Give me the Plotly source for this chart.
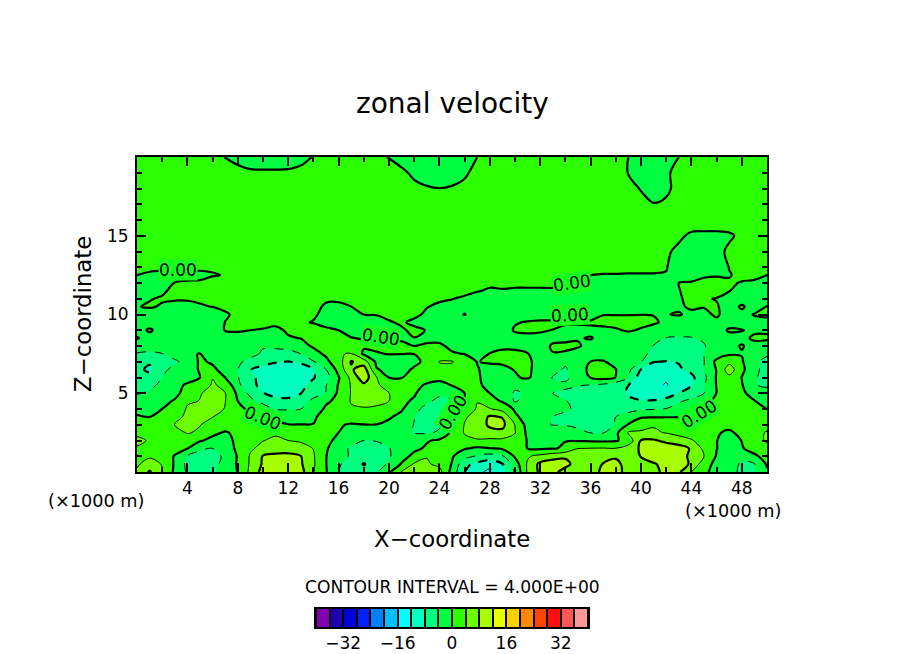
import plotly.graph_objects as go

W, H = 904, 654

# band colours, one per 4 m/s interval from -40 to 40
band_colors = [
    "#8000b0", "#2000b0", "#0000d8", "#0020ff", "#0080ff",
    "#00c0ff", "#00ffff", "#00ffc0", "#00ff80", "#00ff40",
    "#2cff00", "#6cff00", "#a8ff00", "#e8ff00", "#ffd000",
    "#ff8800", "#ff4400", "#ff1010", "#ff5555", "#ff9999",
]
band_centers = [-38, -34, -30, -26, -22, -18, -14, -10, -6, -2, 2, 6, 10, 14, 18, 22, 26, 30, 34, 38]

x_km = list(range(51))
z_km = [20, 19, 18, 17, 16, 15, 14, 13, 12.5, 12, 11.5, 11, 10.5, 10, 9.5, 9, 8.5,
        8, 7.5, 7, 6.5, 6, 5.5, 5, 4.5, 4, 3.5, 3, 2.5, 2, 1.5, 1, 0.5, 0]

# zonal velocity, top row first, x = 0..50
u = [
    [1, 1, 1, 1, 1, 1, 1, -.1, -.5, -1,
     -1, -1, -1, -.6, .1, 1, 1, 1, 1, .5,
     -.1, -1, -1, -1, -1, -1, -.5, 0, 1, 1,
     1, 1, 1, 1, 1, 1, 1, 1, 1, 0,
     -1, -1, -.8, 0, 1, 1, 1, 1, 1, 1,
     1],
    [1, 1, 1, 1, 1, 1, 1, 1, .5, .3,
     .25, .25, .3, .5, 1, 1, 1, 1, 1, 1,
     1, .5, -.5, -1, -1, -1, -.5, 1, 1, 1,
     1, 1, 1, 1, 1, 1, 1, 1, 1, -.1,
     -1, -1, -.5, 1, 1, 1, 1, 1, 1, 1,
     1],
    [1.5, 1.5, 1.5, 1.5, 1.5, 1.5, 1.5, 1.5, 1.5, 1.5,
     1.5, 1.5, 1.5, 1.5, 1.5, 1.5, 1.5, 1.5, 1.5, 1.5,
     1.5, 1, .6, .2, .02, .2, .8, 1.5, 1.5, 1.5,
     1.5, 1.5, 1.5, 1.5, 1.5, 1.5, 1.5, 1.5, 1.5, 1,
     -.2, -1, -.6, 1, 1.5, 1.5, 1.5, 1.5, 1.5, 1.5,
     1.5],
    [1.5, 1.5, 1.5, 1.5, 1.5, 1.5, 1.5, 1.5, 1.5, 1.5,
     1.5, 1.5, 1.5, 1.5, 1.5, 1.5, 1.5, 1.5, 1.5, 1.5,
     1.5, 1.5, 1.5, 1.5, 1.5, 1.5, 1.5, 1.5, 1.5, 1.5,
     1.5, 1.5, 1.5, 1.5, 1.5, 1.5, 1.5, 1.5, 1.5, 1.5,
     1, .1, .5, 1, 1.5, 1.5, 1.5, 1.5, 1.5, 1.5,
     1.5],
    [1.5, 1.5, 1.5, 1.5, 1.5, 1.5, 1.5, 1.5, 1.5, 1.5,
     1.5, 1.5, 1.5, 1.5, 1.5, 1.5, 1.5, 1.5, 1.5, 1.5,
     1.5, 1.5, 1.5, 1.5, 1.5, 1.5, 1.5, 1.5, 1.5, 1.5,
     1.5, 1.5, 1.5, 1.5, 1.5, 1.5, 1.5, 1.5, 1.5, 1.5,
     1.5, 1.5, 1.5, 1.5, 1.5, 1.5, 1.5, 1.5, 1.5, 1.5,
     1.5],
    [1.5, 1.5, 1.5, 1.5, 1.5, 1.5, 1.5, 1.5, 1.5, 1.5,
     1.5, 1.5, 1.5, 1.5, 1.5, 1.5, 1.5, 1.5, 1.5, 1.5,
     1.5, 1.5, 1.5, 1.5, 1.5, 1.5, 1.5, 1.5, 1.5, 1.5,
     1.5, 1.5, 1.5, 1.5, 1.5, 1.5, 1.5, 1.5, 1.5, 1.5,
     1.5, 1.5, 1.5, .5, -.5, -.6, -.6, -.4, .6, 1.5,
     1.5],
    [1.5, 1.5, 1.5, 1.5, 1.5, 1.5, 1.5, 1.5, 1.5, 1.5,
     1.5, 1.5, 1.5, 1.5, 1.5, 1.5, 1.5, 1.5, 1.5, 1.5,
     1.5, 1.5, 1.5, 1.5, 1.5, 1.5, 1.5, 1.5, 1.5, 1.5,
     1.5, 1.5, 1.5, 1.5, 1.5, 1.5, 1.5, 1.5, 1.5, 1.5,
     1.5, 1.5, .4, -.6, -1, -1, -.8, .5, 1.5, 1.5,
     1.5],
    [.4, .4, .4, .4, .4, .4, .3, .8, 1.5, 1.5,
     1.5, 1.5, 1.5, 1.5, 1.5, 1.5, 1.5, 1.5, 1.5, 1.5,
     1.5, 1.5, 1.5, 1.5, 1.5, 1.5, 1.5, 1.5, 1.5, 1.5,
     1.5, 1.5, 1.5, 1.5, 1.5, 1.5, .5, .5, .5, .5,
     .5, .5, .1, -1, -1, -1, -1, .05, .8, .8,
     .5],
    [0, -.3, -.5, -.6, -.6, -.5, -.15, .1, 1.2, 1.2,
     1.2, 1.2, 1.2, 1.2, 1.2, 1.2, 1.2, 1.2, 1.2, 1.2,
     1.2, 1.2, 1.2, 1.2, 1.2, 1.2, 1.2, 1.2, 1.2, 1.2,
     1.2, 1.2, 1.2, 1.2, 1.2, .2, 0, -.1, -.1, -.15,
     -.15, -.15, -.1, -1, -.5, -.2, -.1, -.1, .4, .3,
     0],
    [-1, -1, -.5, .05, .25, .3, .8, 1.2, 1.2, 1.2,
     1.2, 1.2, 1.2, 1.2, 1.2, 1.2, 1.2, 1.2, 1.2, 1.2,
     1.2, 1.2, 1.2, 1.2, 1.2, 1, .8, .5, .3, .6,
     .6, .6, .6, .6, .05, -.3, -1, -1, -1, -1,
     -1, -1, -1, 0, .1, .4, .4, .2, -.1, -.2,
     -.5],
    [-1, -.5, -.3, .5, 1.5, 1.5, 1.5, 1.5, 1.5, 1.5,
     1.5, 1.5, 1.5, 1.5, 1.5, 1.5, 1.5, 1.5, 1.5, 1.5,
     1.5, 1.5, 1.5, 1.5, 1.5, 1.2, .5, .1, -.2, -.2,
     -.4, -.4, -.4, -.4, -1, -1.5, -1.5, -1.5, -1.5, -1.5,
     -1.5, -1.5, -1.5, -.1, .8, .8, .8, .1, -1, -1,
     -1],
    [-.6, -.1, .2, .1, .1, .3, .7, 1.2, 1.2, 1.2,
     1.2, 1.2, 1.2, 1.2, 1.2, .5, .4, .8, 1.2, 1.2,
     1.2, 1.2, 1, .8, .3, .05, -.3, -.8, -1.5, -1.5,
     -1.5, -1.5, -1.5, -1.5, -1.5, -1.5, -1.5, -1.5, -1.5, -1.5,
     -1.5, -1.5, -1.5, -.2, .5, .2, -.1, -1, -1, -1,
     -1],
    [-.1, .2, -.2, -.3, -.3, -.2, .05, .6, 1.2, 1.2,
     1.2, 1.2, 1.2, 1.2, 1, -.5, -.5, 0, .6, .8,
     1, 1, 1, .1, -.4, -.5, -.8, -1.5, -1.5, -1.5,
     -1.5, -1.5, -1.5, -1.5, -1.5, -1.5, -1.5, -1.5, -1.5, -1.5,
     -1.5, -1.5, -1.5, -.2, .2, .1, .2, -1, .3, -1,
     .1],
    [-1, -1, -1.5, -1.5, -1.5, -1.5, -1.5, -.36, .64, 1.2,
     1.2, 1.2, 1.2, 1.2, .5, -1, -1, -.8, 0, .1,
     .5, .8, .5, -.4, -1, -1, .1, -1.5, -1.5, -1.5,
     -1.5, -1.5, -1.5, -1.5, -1.5, -1.5, -1.5, -.05, -.05, -.05,
     -.03, -.05, -.05, .1, -.3, -.5, .3, -1, -.6, .1,
     .3],
    [-1.5, -1.5, -1.5, -1.5, -1.5, -1.5, -1.5, .05, .9, 1.2,
     .8, .5, 1, .5, -.2, -.5, -.8, -1, -1, -1,
     -.2, .3, -.5, -1, -1.5, -1.5, -1.5, -1.5, -1.5, -1.5,
     -.2, .2, .5, .5, .5, .5, .5, .5, .5, .5,
     .5, .2, -.3, -.8, -1, -1, -.5, -1, -1, -.5,
     -.5],
    [-1.5, .5, -1.5, -1.5, -1.5, -1.5, -.5, .05, .1, 0,
     -.2, -.5, .3, 1.5, 1.5, .3, 0, -.5, -.6, -.6,
     -.6, -.3, .5, -.1, -1.5, -1.5, -1.5, -1.5, -1.5, -1.5,
     .3, .4, .2, -.05, -1, -1.2, -.8, -.5, -.2, .2,
     -.2, -.6, -2.5, -2.5, -2.5, -2.5, -1.2, .3, .1, -.5,
     -.5],
    [.3, -1.5, -1.6, -1.5, -1.4, -1.2, -1, -.8, -.4, -.5,
     -.6, -1.2, -.2, .05, 1, 1.2, 1, .05, -.1, -.15,
     -.2, -.2, -.05, -.5, -.5, -1, -1.2, -1.5, -1.5, -1.5,
     -1, -.6, -.5, -.6, -.6, -.2, .2, -1, -1.2, -1,
     -1.2, -3.2, -4.1, -4.3, -4.2, -3.5, -1.3, -1, -.8, .5,
     .5],
    [-2, -2.5, -2.4, -2, -1.6, -1.2, -1.2, -1.3, -1.5, -1.8,
     -3.7, -3.2, -2.5, -.8, .3, 1.5, 2, 1.5, .4, .5,
     .4, .3, 0, .3, .3, -.4, -.7, -1.2, -.8, -.5,
     -.5, -.8, -1, .3, .5, .3, -1, -1.2, -1.5, -2,
     -2.5, -4.1, -4.8, -5, -4.5, -4.3, -2, -.8, .2, -1,
     -1.5],
    [-4.3, -4.6, -4.1, -2.8, -.2, .05, -1.3, -1.8, -2.3, -3,
     -4.5, -5.5, -5.5, -4, -1, .5, 3.9, 4.1, -.6, -.2,
     .1, .05, .05, .8, .9, .2, -.05, -1.2, .1, .6,
     .5, .1, -1.5, -.1, -.3, -1.2, -1.5, -1.8, -2.2, -2.8,
     -3.5, -4.5, -5.5, -5.8, -5, -4, -2, -.5, -.2, -2.5,
     -3.5],
    [-5, -7.5, -6.5, -4.5, -3, .6, -.5, -1.5, -3.4, -5,
     -7, -7.8, -8.1, -7.5, -4.3, -.8, 2, 8.3, 6, -.8,
     -1.5, -1.5, -.8, .8, 4.2, 4.3, 1.5, -.1, .3, .3,
     .5, .5, -1, -1.6, -3.4, -2.2, .05, .3, -1.3, -2.5,
     -3.8, -7.9, -8.2, -7.8, -6.5, -4.1, 1, 3, .4, -3.4,
     -5],
    [-7, -8.8, -4.8, -3, -1.5, .3, .8, -1.5, -3.9, -7.9,
     -9, -9.5, -10, -9.8, -8, -4.1, 1.3, 7.5, 10, .3,
     -1, -1.2, .5, 1.5, 2.8, 2.5, 2, .2, -1, -.5,
     .1, .6, -1.3, -3, -4.4, -2, 1, 1.5, .1, -3,
     -8.1, -10, -10, -8.5, -7, -4, .2, 6, 1, -3.3,
     -5],
    [-6, -6.5, -4, -2, -1, 0, 3.9, -.1, -3.8, -7,
     -9.5, -11, -11.5, -11, -8.3, -5.5, -.3, 5, 10.5, 4.2,
     0, -.1, 1.3, 1.5, 1, 1.8, 2, .4, -1.2, -2,
     -.3, .4, -1.6, -4.2, -4.5, -3, .1, 1.2, -.05, -4,
     -10.5, -11.5, -11.5, -10.5, -9, -5, .3, 3, -.1, -3.8,
     -4.6],
    [-5, -4.5, -3.5, -.8, .4, 2, 4.4, 3.2, -3, -7,
     -9, -10.5, -10.5, -9, -6.8, -4.1, .3, 4.3, 7, 4.8,
     2, 1.5, 1, -.5, -1.2, .1, 1.5, 1.3, -2, -3,
     -3.2, -2.8, -2.8, -3.3, -3.5, -3.8, -4.3, -5, -6.5, -8,
     -10, -11, -12.3, -10, -8.2, -4.2, .2, 1.6, .3, -3.8,
     -4.5],
    [-4.2, -3.7, -2.5, -.8, 1.2, 3.8, 5, 4.1, -.8, -5,
     -7.8, -9.5, -9.5, -8.1, -5.5, -3.9, .8, 4.2, 6.5, 6,
     4.05, 2, .4, -2, -3.2, -2.8, 0, 1.5, 0, -1.5,
     -4.5, -3.5, -3.2, -4, -4.5, -5, -5.5, -6, -7, -8.3,
     -9.5, -10, -9.5, -7.9, -6, -4, .1, 1.5, .5, -1,
     -2.5],
    [-2.5, -1.8, -.9, .3, 3.5, 4.1, 5, 4.1, 0, -3,
     -5, -6.5, -7, -6, -3, -.5, .8, 4.3, 5, 5,
     4, .8, -.5, -3.3, -5, -4.3, .4, 3.9, 1.2, -.3,
     -4.4, -2.5, -2.5, -3, -3.9, -4.6, -5.2, -5.5, -6, -7.5,
     -7.8, -7.7, -7, -4.5, -3, -.5, .5, 1.2, .9, .1,
     -.9],
    [-.6, -.8, 0, .8, 4.5, 6, 5.5, 3.8, .7, -.5,
     -2.2, -4.2, -4.3, -4, -1.8, .5, 2.5, 3.5, 3.7, 3.3,
     1.5, .4, -2.6, -5.5, -6.5, -4.5, 2, 4.3, 4.3, 2.5,
     -.5, -1.5, -2.5, -3, -3.7, -4.4, -4.8, -5, -4.5, -4.8,
     -4.6, -4.2, -3.8, -2.5, -1, 1, 1.5, 2, 2, 1,
     -.05],
    [.2, 0, .5, 2.5, 5, 6, 4.1, 2, 1.2, .9,
     0, -.5, -1.5, -1.8, -.3, .8, 2, 2, 2.4, 2.2,
     .4, -1, -3.9, -6, -6, -1.5, 3.5, 5.5, 8.5, 7.8,
     .7, -1.7, -3, -4, -4.5, -5, -5, -5, -4, -3,
     -.3, -.25, -.2, -.1, .4, 1.3, 2, 2, 2, 2,
     1.8],
    [1.8, 1.2, 1.5, 4.2, 4.8, 4.2, 1.8, 1.5, 1.8, 2,
     1.5, .5, .1, .1, .05, .8, .3, -.3, -.1, -.1,
     -.8, -2.5, -4.1, -5, -4.5, 0, 4.2, 5.5, 8.8, 9,
     3.9, -1.5, -3.5, -4.1, -4.1, -4.5, -4.6, -5, -3.8, .3,
     2, 3.7, 3.9, 2.5, 1.5, 1.2, 1, 1, 1.5, 2.2,
     2],
    [3.5, 2.5, 2, 2.2, 4.4, 3.2, .7, -.3, .7, 1.8,
     2.8, 3.5, 3, 2.5, 2.2, 1.2, 0, -1, -1.5, -1.8,
     -2.5, -3, -4.3, -4.5, -3.5, .8, 4.3, 6, 6.5, 7,
     4.1, -.9, -1.8, -2.3, -3, -3.4, -4.1, -4.2, -1, 4.5,
     4.7, 4.5, 3.8, 3, 2.5, 1.5, .3, -.5, .8, 2,
     4.5],
    [4.5, 3.8, 2.5, 2, 1.2, .3, -.8, -1.5, 1, 2.5,
     3.9, 4.6, 4, 3.5, 3, 1, -1, -2.5, -4, -3.9,
     -3.5, -3.5, -1, -.3, .6, 2.5, 3, 3.5, 3.2, 3,
     3.4, -.3, -1, -.8, -.1, -.3, -.5, -.6, -.4, 1.5,
     8.2, 8.5, 7, 5.5, 4.3, 2.5, .1, -1.8, .1, 2.5,
     4.5],
    [3.8, 3.3, 3, 1.5, .1, -3, -4.1, -2.5, 1, 3.5,
     5, 6, 6, 5.5, 3.9, .5, -2.5, -4.5, -5, -4.7,
     -4.1, -3, -.8, .5, 1.8, .8, .3, -.6, -.1, .6,
     1.5, -.05, -.5, -.3, .5, 3.9, 4.1, 4.2, 4.1, 6,
     8.5, 10.5, 10.5, 10, 7.5, 3, .1, -2, -.3, 1.5,
     2.5],
    [3, 3.5, 2.5, -.3, -4.2, -6, -6, -3, .3, 4.4,
     8.3, 9, 9.2, 8.1, 4.4, .1, -2.5, -4.5, -6, -5.5,
     -4.4, -1.5, 1, 3.8, 2.5, .4, -2.5, -4.5, -5.5, -4.5,
     .5, 3.6, 5, 6.5, 7.5, 7.9, 5.5, 6.5, 7.5, 5.5,
     8.2, 10.5, 10.5, 9, 7.5, 4, -.3, -2.5, -3, -.7,
     1.5],
    [3.5, 5.5, 3.8, -.5, -5, -6.5, -5.5, -2.5, .4, 4.5,
     8.5, 10, 10, 8.5, 4.5, .1, -3.6, -5.5, -8.3, -5.5,
     -3.5, .3, 4.5, 4.5, 3, -.2, -7, -9, -10.5, -8.2,
     -2, 4.5, 9, 10, 9, 6.5, 6, 8.2, 9, 6.5,
     6.5, 7.5, 9.5, 9.5, 7.5, 1.5, -1, -2.5, -4.5, -4.2,
     .5],
    [4.5, 8.5, 4.2, -.8, -4.5, -6, -5, -1.5, .05, 5,
     9.5, 10, 11, 9.5, 4.2, .3, -4, -6, -6.5, -4.5,
     -.5, 4.4, 5.5, 6.5, 5.5, -1.5, -8, -11, -13, -9.5,
     -3.5, 4.5, 8.8, 9, 6.5, 6, 7, 8.5, 9, 7,
     6.5, 7.5, 8.5, 8.5, 4, 1.2, -2, -3.5, -4.3, -4.2,
     -.5],
]
assert len(u) == len(z_km) and all(len(r) == 51 for r in u)

# contour lines: level, width, dash
line_levels = [0, 4, 8, -4, -8, -12]
line_widths = [2.2, 1, 2.2, 1, 2.2, 1]
line_dashes = ["solid", "solid", "solid", "dash", "dash", "dash"]

# in-line "0.00" labels
label_x = [3.25, 34.5, 34.35, 19.4, 10, 25.1, 44.6]
label_y = [12.85, 12.0, 9.95, 8.6, 3.45, 3.8, 3.7]
label_angle = [0, -8, -3, 9, 22, -58, -32]

colorscale = []
for i, c in enumerate(band_colors):
    colorscale.append([i / 20, c])
    colorscale.append([(i + 1) / 20, c])

fig = go.Figure()

fig.add_trace(go.Contour(
    x=x_km, y=z_km, z=u,
    zmin=-40, zmax=40,
    colorscale=colorscale,
    autocontour=False,
    contours=dict(start=-40, end=40, size=4, coloring="fill", showlines=False),
    line_width=0,
    showscale=False,
    hoverinfo="skip",
))

for level, width, dash in zip(line_levels, line_widths, line_dashes):
    fig.add_trace(go.Contour(
        x=x_km, y=z_km, z=u,
        autocontour=False,
        contours=dict(start=level, end=level, size=4, coloring="none"),
        line=dict(color="black", width=width, dash=dash),
        showscale=False,
        hoverinfo="skip",
    ))

# colour key under the plot
fig.add_trace(go.Heatmap(
    x=band_centers, y=[0], z=[band_centers],
    zmin=-40, zmax=40,
    colorscale=colorscale,
    showscale=False,
    xgap=2,
    hoverinfo="skip",
    xaxis="x2", yaxis="y2",
))

axis_font = dict(family="DejaVu Sans", size=17, color="black")

fig.update_layout(
    width=W, height=H,
    margin=dict(l=0, r=0, t=0, b=0, autoexpand=False),
    paper_bgcolor="white",
    plot_bgcolor="black",
    showlegend=False,
    xaxis=dict(
        domain=[137 / W, 767 / W], range=[0, 50],
        tickmode="array", tickvals=list(range(4, 50, 4)),
        ticks="inside", ticklen=9, tickwidth=1.5, tickcolor="black",
        minor=dict(tickmode="array", tickvals=list(range(2, 50, 4)),
                   ticks="inside", ticklen=5, tickwidth=1.5, tickcolor="black"),
        showline=True, linecolor="black", linewidth=2, mirror="ticks",
        showgrid=False, zeroline=False, tickfont=axis_font,
    ),
    yaxis=dict(
        domain=[(H - 472) / H, (H - 157) / H], range=[0, 20],
        tickmode="array", tickvals=[5, 10, 15],
        ticks="inside", ticklen=9, tickwidth=1.5, tickcolor="black",
        minor=dict(tickmode="array",
                   tickvals=[1, 2, 3, 4, 6, 7, 8, 9, 11, 12, 13, 14, 16, 17, 18, 19],
                   ticks="inside", ticklen=5, tickwidth=1.5, tickcolor="black"),
        showline=True, linecolor="black", linewidth=2, mirror="ticks",
        showgrid=False, zeroline=False, tickfont=axis_font, ticklabelstandoff=3,
    ),
    xaxis2=dict(
        domain=[316 / W, 588 / W], range=[-40, 40], anchor="y2",
        tickmode="array", tickvals=[-32, -16, 0, 16, 32], ticks="",
        showline=True, linecolor="black", linewidth=2, mirror=True,
        showgrid=False, zeroline=False, tickfont=axis_font,
    ),
    yaxis2=dict(
        domain=[(H - 627) / H, (H - 609) / H], range=[-0.5, 0.5], anchor="x2",
        showticklabels=False, ticks="",
        showline=True, linecolor="black", linewidth=2, mirror=True,
        showgrid=False, zeroline=False,
    ),
)


def add_text(text, px, py, size, angle=0):
    fig.add_annotation(
        text=text, x=px / W, y=1 - py / H, xref="paper", yref="paper",
        xanchor="center", yanchor="middle", showarrow=False, textangle=angle,
        font=dict(family="DejaVu Sans", size=size, color="black"),
    )


add_text("zonal velocity", 452, 103, 28)
add_text("X\u2212coordinate", 452, 539, 22.8)
add_text("Z\u2212coordinate", 83, 314, 22.8, angle=-90)
add_text("(\u00d71000 m)", 96, 501, 17.7)
add_text("(\u00d71000 m)", 733, 511, 17.7)
add_text("CONTOUR INTERVAL = 4.000E+00", 452, 587, 17.1)

for lx, ly, la in zip(label_x, label_y, label_angle):
    fig.add_annotation(
        text="0.00", x=lx, y=ly, xref="x", yref="y",
        xanchor="center", yanchor="middle",
        showarrow=False, textangle=la, bgcolor="#16ff20",
        borderpad=0,
        font=dict(family="DejaVu Sans", size=17, color="black"),
    )

fig.write_html("out.html", config={"displayModeBar": False},
               post_script="document.body.style.margin='0';")
